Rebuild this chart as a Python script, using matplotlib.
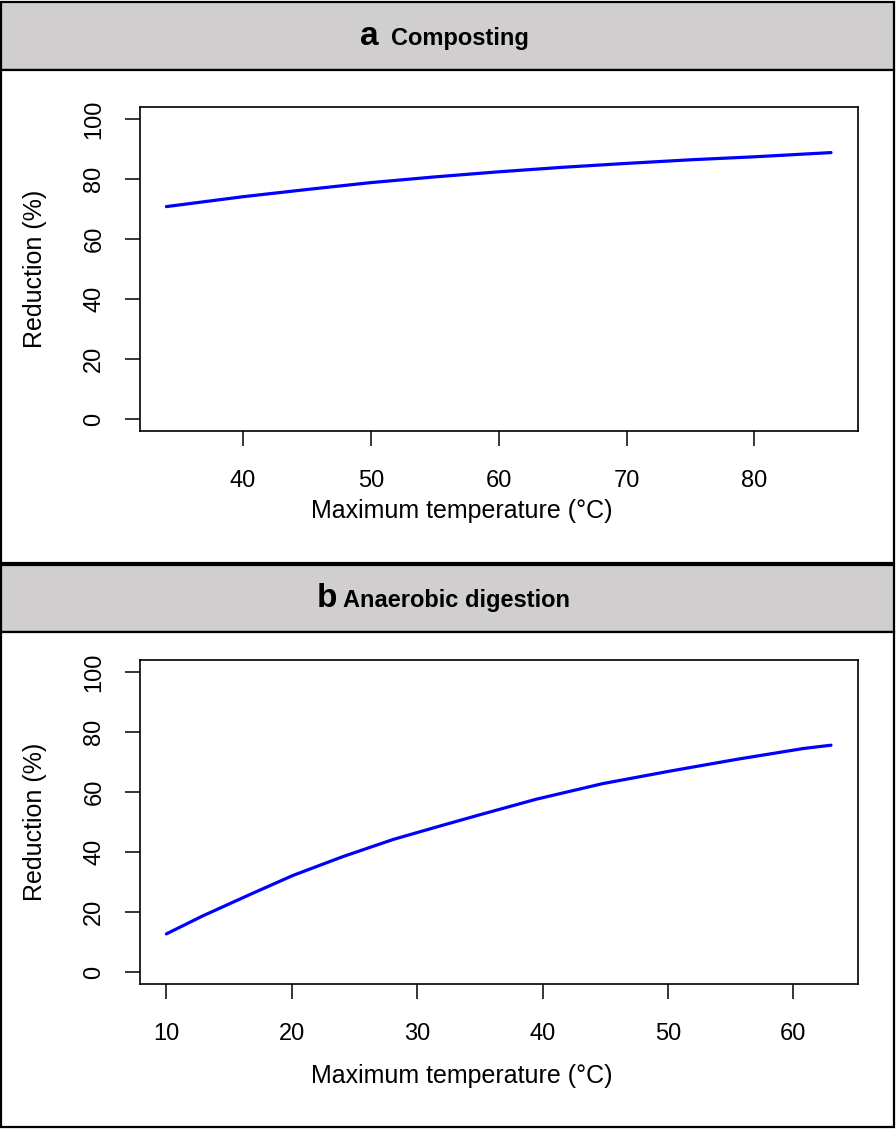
import matplotlib
matplotlib.use("Agg")
import matplotlib.pyplot as plt
from matplotlib.patches import Rectangle

plt.rcParams['font.family'] = ['Liberation Sans', 'DejaVu Sans']

# composting: max temperature vs reduction
comp_temp = [34, 40, 45, 50, 55, 60, 65, 70, 75, 80, 86]
comp_red = [70.9, 74.2, 76.6, 78.9, 80.8, 82.5, 84.0, 85.3, 86.5, 87.5, 88.9]

# anaerobic digestion
ad_temp = [10, 12.9, 16.7, 20.1, 24.1, 28.1, 31.6, 34.9, 39.5, 44.8, 50.2, 55.5, 60.8, 63]
ad_red = [12.7, 18.7, 25.9, 32.2, 38.5, 44.2, 48.4, 52.3, 57.6, 62.8, 67.0, 70.9, 74.5, 75.6]

comp_xticks = [40, 50, 60, 70, 80]
ad_xticks = [10, 20, 30, 40, 50, 60]
yticks = [0, 20, 40, 60, 80, 100]

W, H = 896, 1129
fig = plt.figure(figsize=(W / 100, H / 100), dpi=100)


def fx(px):
    return px / W


def fy(py):
    return 1 - py / H


def box(x0, y0, x1, y1, color):
    fig.patches.append(Rectangle((fx(x0), fy(y1)), fx(x1) - fx(x0), fy(y0) - fy(y1),
                                 transform=fig.transFigure, facecolor=color,
                                 edgecolor='black', linewidth=1.6, zorder=-5))


# panel frames and grey header strips
box(1, 2, 894, 70, '#d0cecf')
box(1, 70, 894, 563, 'white')
box(1, 565, 894, 632, '#d0cecf')
box(1, 632, 894, 1127, 'white')

fig.text(fx(360), fy(45), 'a', fontsize=24, fontweight='bold', ha='left', va='baseline')
fig.text(fx(391), fy(45), 'Composting', fontsize=17, fontweight='bold', ha='left', va='baseline')
fig.text(fx(317), fy(607), 'b', fontsize=24, fontweight='bold', ha='left', va='baseline')
fig.text(fx(343), fy(607), 'Anaerobic digestion', fontsize=17, fontweight='bold', ha='left', va='baseline')

panels = [
    (comp_temp, comp_red, comp_xticks, 107.3, 518),
    (ad_temp, ad_red, ad_xticks, 660, 1083),
]

for temp, red, xt, top, label_base in panels:
    left, right = 139.8, 857.6
    bottom = top + 324
    ax = fig.add_axes([fx(left), fy(bottom), fx(right) - fx(left), fy(top) - fy(bottom)])
    ax.set_facecolor('none')
    ax.plot(temp, red, color='#0000ff', linewidth=2.3, solid_capstyle='round',
            solid_joinstyle='round')

    span = max(temp) - min(temp)
    ax.set_xlim(min(temp) - 0.04 * span, max(temp) + 0.04 * span)
    ax.set_ylim(-4, 104)
    ax.set_xticks(xt)
    ax.set_yticks(yticks)
    ax.set_yticklabels([str(v) for v in yticks], rotation=90, va='center')

    for s in ax.spines.values():
        s.set_linewidth(1.2)
    ax.tick_params(axis='both', length=10.8, width=1.1, labelsize=17, direction='out')
    ax.tick_params(axis='x', pad=17)
    ax.tick_params(axis='y', pad=14)

    fig.text(fx(462), fy(label_base), 'Maximum temperature (°C)',
             fontsize=18, ha='center', va='baseline')
    fig.text(fx(35), fy((top + bottom) / 2), 'Reduction (%)', fontsize=18,
             rotation=90, ha='center', va='center')

fig.savefig('out.png', dpi=100)
